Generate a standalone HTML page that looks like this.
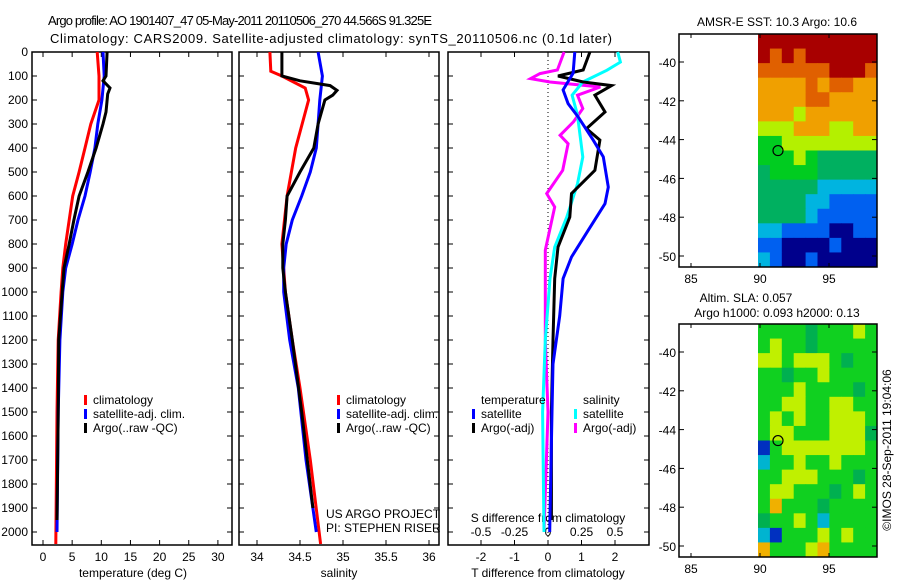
<!DOCTYPE html>
<html><head><meta charset="utf-8"><style>
html,body{margin:0;padding:0;background:#fff;}
svg{display:block;font-family:"Liberation Sans",sans-serif;}
</style></head><body>
<svg id="c" width="900" height="580" viewBox="0 0 900 580"></svg>
<script>
// ---------- data ----------
const depthRed1=[0,100,200,250,300,400,500,600,700,800,900,1000,1200,1500,2050];
const tempClim=[9.3,9.6,9.6,8.9,8.2,7.2,6.2,5.1,4.5,3.9,3.4,3.1,2.6,2.4,2.2];
const depthBlue1=[0,100,200,300,400,500,600,700,800,900,1000,1200,1500,2000];
const tempSat=[10.3,10.5,10.1,9.4,8.9,8.1,7.2,6.0,5.0,3.9,3.4,2.9,2.6,2.4];
const depthBlk1=[0,100,120,150,175,250,300,400,500,600,700,800,900,1000,1200,1500,1950];
const tempArgo=[11.0,10.8,10.3,11.5,11.1,10.8,10.3,9.1,7.7,6.2,5.3,4.5,3.6,3.3,2.7,2.6,2.4];

const depthRed2=[0,80,100,150,200,400,600,800,1000,1200,1400,1700,2050];
const salClim=[34.15,34.16,34.29,34.56,34.6,34.45,34.35,34.29,34.33,34.41,34.5,34.62,34.74];
const depthBlue2=[0,100,200,300,400,500,600,700,800,900,1000,1200,1400,1700,2000];
const salSat=[34.71,34.76,34.73,34.71,34.69,34.62,34.52,34.41,34.34,34.31,34.31,34.38,34.48,34.57,34.69];
const depthBlk2=[0,100,120,140,160,180,200,300,400,500,600,700,800,900,1000,1200,1500,1900];
const salArgo=[34.29,34.29,34.5,34.85,34.93,34.88,34.79,34.71,34.66,34.5,34.35,34.33,34.3,34.3,34.33,34.41,34.52,34.65];

const depthTd=[0,88,158,215,270,367,437,563,632,743,854,944,1100,1300,1500,2000];
const tDiffSat=[0.8,0.75,0.45,0.6,0.9,1.35,1.65,1.8,1.7,1.2,0.7,0.45,0.35,0.15,0.12,0.05];
const depthTa=[0,75,100,125,140,180,250,319,367,493,590,688,813,944,1200,1500,1950];
const tDiffArgo=[1.25,1.05,0.3,1.05,1.9,1.4,1.7,1.15,1.55,1.4,0.7,0.65,0.3,0.2,0.15,0.1,0.1];
const depthSd=[0,42,76,125,180,263,438,549,688,813,944,1200,1500,2000];
const sDiffSat=[0.52,0.54,0.44,0.26,0.18,0.22,0.26,0.22,0.14,0.05,0.015,-0.02,-0.04,-0.03];
const depthSa=[0,75,90,111,125,146,180,236,291,347,382,493,590,646,826,1200,1500,2000];
const sDiffArgo=[0.12,0.07,-0.06,-0.13,0.015,0.39,0.22,0.26,0.19,0.09,0.15,0.11,-0.01,0.05,-0.02,-0.02,0,-0.03];

const depthTicks=[0,100,200,300,400,500,600,700,800,900,1000,1100,1200,1300,1400,1500,1600,1700,1800,1900,2000];
const tempTicks=[0,5,10,15,20,25,30];
const salTicks=[34,34.5,35,35.5,36];
const tdTicks=[-2,-1,0,1,2];
const sdTicks=[-0.5,-0.25,0,0.25,0.5];
const latTicks=[-40,-42,-44,-46,-48,-50];
const lonTicks=[85,90,95];

const sstGrid=["9999999999","9898999999","8888889998","7777878877","7777887777","7776777777","6667776677","5566666666","5556544444","4555544444","4444433333","4444332222","4444322222","3322221122","2211112111","3211211111"];
const slaGrid=["5555455565","5655455555","6656665455","5545565555","5556555545","5566556655","5656556665","5665556664","2566666665","3556556555","5566655545","5665554565","5755545555","4556535555","3255565655","7555675555"];
const palette={"1":"#00008c","2":"#0060f0","3":"#00b4e0","4":"#00b060","5":"#00cc20","6":"#b4f000","7":"#f0a000","8":"#e06000","9":"#a80000"};
const slaPal={"2":"#0030c0","3":"#00b4d0","4":"#00b050","5":"#10d020","6":"#c0f000","7":"#f0b000"};

// ---------- helpers ----------
const svg=document.getElementById('c');
const NS='http://www.w3.org/2000/svg';
function mk(tag,attrs,parent){const e=document.createElementNS(NS,tag);for(const k in attrs)e.setAttribute(k,attrs[k]);(parent||svg).appendChild(e);return e;}
function txt(x,y,s,anchor,size,parent){const t=mk('text',{x:x,y:y,'font-size':size||12,'text-anchor':anchor||'start',fill:'#000'},parent);t.textContent=s;return t;}
const yD=d=>52+0.24*d;
const xT=v=>43+5.83*v;
const xS=v=>257+86*(v-34);
const xTd=v=>548+33.5*v;
const xSd=v=>548+134*v;

function line(xs,ds,fx,color,name){
  const pts=xs.map((v,i)=>fx(v).toFixed(1)+','+yD(ds[i]).toFixed(1)).join(' ');
  const p=mk('polyline',{points:pts,fill:'none',stroke:color,'stroke-width':3,'stroke-linejoin':'miter'});
  
  
}
function frame(x0,x1,name){
  const r=mk('rect',{x:x0,y:52,width:x1-x0,height:493,fill:'none',stroke:'#000','stroke-width':1.5});
  
  
}

// titles
let t=txt(48,25,"Argo profile: AO 1901407_47 05-May-2011 20110506_270 44.566S 91.325E",'start',13);
t.setAttribute('textLength',384);


t=txt(50,43,"Climatology: CARS2009. Satellite-adjusted climatology: synTS_20110506.nc (0.1d later)",'start',13);
t.setAttribute('textLength',562);



// panel frames
frame(32,232,'temperature-panel');
frame(239,439,'salinity-panel');
frame(448,649,'difference-panel');

// depth axis
depthTicks.forEach(d=>{
  const l=txt(28,yD(d)+4,String(d),'end',12);
  
  
  [[32,1],[232,-1],[239,1],[439,-1],[448,1],[649,-1]].forEach(([x,s])=>{if(d%100===0)mk('line',{x1:x,x2:x+5*s,y1:yD(d),y2:yD(d),stroke:'#000'});});
});
// temperature axis
tempTicks.forEach(v=>{
  mk('line',{x1:xT(v),x2:xT(v),y1:545,y2:540,stroke:'#000'});mk('line',{x1:xT(v),x2:xT(v),y1:52,y2:57,stroke:'#000'});
  const l=txt(xT(v),561,String(v),'middle',12);
  
  
});
t=txt(133,577,'temperature (deg C)','middle',12);


salTicks.forEach(v=>{
  mk('line',{x1:xS(v),x2:xS(v),y1:545,y2:540,stroke:'#000'});mk('line',{x1:xS(v),x2:xS(v),y1:52,y2:57,stroke:'#000'});
  const l=txt(xS(v),561,String(v),'middle',12);
  
  
});
t=txt(339,577,'salinity','middle',12);


tdTicks.forEach(v=>{
  mk('line',{x1:xTd(v),x2:xTd(v),y1:545,y2:540,stroke:'#000'});mk('line',{x1:xTd(v),x2:xTd(v),y1:52,y2:57,stroke:'#000'});
  const l=txt(xTd(v),561,String(v),'middle',12);
  
  
});
t=txt(548,577,'T difference from climatology','middle',12);


sdTicks.forEach(v=>{
  const l=txt(xSd(v),536,String(v),'middle',12);
  
  
});
t=txt(548,522,'S difference from climatology','middle',12);


mk('line',{x1:548,x2:548,y1:52,y2:545,stroke:'#000','stroke-dasharray':'1,3'});

// series
line(tempClim,depthRed1,xT,'#ff0000','temp-climatology-line');
line(tempSat,depthBlue1,xT,'#0000ff','temp-satellite-line');
line(tempArgo,depthBlk1,xT,'#000000','temp-argo-line');
line(salClim,depthRed2,xS,'#ff0000','sal-climatology-line');
line(salSat,depthBlue2,xS,'#0000ff','sal-satellite-line');
line(salArgo,depthBlk2,xS,'#000000','sal-argo-line');
line(sDiffArgo,depthSa,xSd,'#ff00ff','s-diff-argo-line');
line(sDiffSat,depthSd,xSd,'#00ffff','s-diff-satellite-line');
line(tDiffArgo,depthTa,xTd,'#000000','t-diff-argo-line');
line(tDiffSat,depthTd,xTd,'#0000ff','t-diff-satellite-line');

// legends
function leg(x,y,color,label,name){
  const g=mk('g',{});
  
  
  mk('rect',{x:x,y:y-9,width:3,height:10,fill:color},g);
  txt(x+9,y,label,'start',12,g);
}
leg(84,404,'#ff0000','climatology','legend-climatology');
leg(84,418,'#0000ff','satellite-adj. clim.','legend-satellite-adj');
leg(84,432,'#000000','Argo(..raw -QC)','legend-argo');
leg(337,404,'#ff0000','climatology','legend-climatology-2');
leg(337,418,'#0000ff','satellite-adj. clim.','legend-satellite-adj-2');
leg(337,432,'#000000','Argo(..raw -QC)','legend-argo-2');
t=txt(481,404,'temperature','start',12);


leg(472,418,'#0000ff','satellite','legend-t-satellite');
leg(472,432,'#000000','Argo(-adj)','legend-t-argo');
t=txt(583,404,'salinity','start',12);


leg(574,418,'#00ffff','satellite','legend-s-satellite');
leg(574,432,'#ff00ff','Argo(-adj)','legend-s-argo');
t=txt(326,518,'US ARGO PROJECT','start',12);


t=txt(326,532,'PI: STEPHEN RISER','start',12);



// maps
function map(top,grid,pal,name,title){
  const g=mk('g',{});
  
  
  const x0=758,x1=877,h=233,rows=grid.length,cols=grid[0].length;
  const cw=(x1-x0)/cols,ch=h/rows;
  grid.forEach((r,i)=>{for(let j=0;j<cols;j++){mk('rect',{x:x0+j*cw,y:top+i*ch,width:cw+0.5,height:ch+0.5,fill:pal[r[j]]},g);}});
  mk('rect',{x:679,y:top,width:198,height:h,fill:'none',stroke:'#000','stroke-width':1.5},g);
  const yl=v=>top+28+(v+40)*(-19.4);
  latTicks.forEach(v=>{mk('line',{x1:679,x2:684,y1:yl(v),y2:yl(v),stroke:'#000'},g);mk('line',{x1:877,x2:872,y1:yl(v),y2:yl(v),stroke:'#000'},g);txt(676,yl(v)+5,String(v),'end',12,g);});
  const xl=v=>691+13.8*(v-85);
  lonTicks.forEach(v=>{mk('line',{x1:xl(v),x2:xl(v),y1:top,y2:top+4,stroke:'#000'},g);mk('line',{x1:xl(v),x2:xl(v),y1:top+h,y2:top+h-4,stroke:'#000'},g);txt(xl(v),top+h+16,String(v),'middle',12,g);});
  mk('circle',{cx:778,cy:yl(-44.566),r:5,fill:'none',stroke:'#000','stroke-width':1.2},g);
}
map(34,sstGrid,palette,'sst-map');
map(324,slaGrid,slaPal,'sla-map');
t=txt(777,26,'AMSR-E SST: 10.3 Argo: 10.6','middle',12);


t=txt(746,302,'Altim. SLA: 0.057','middle',12);


t=txt(777,317,'Argo h1000: 0.093 h2000: 0.13','middle',12);


t=txt(0,0,'©IMOS 28-Sep-2011 19:04:06','middle',12);
t.setAttribute('transform','translate(891,450) rotate(-90)');


</script>
</body></html>
